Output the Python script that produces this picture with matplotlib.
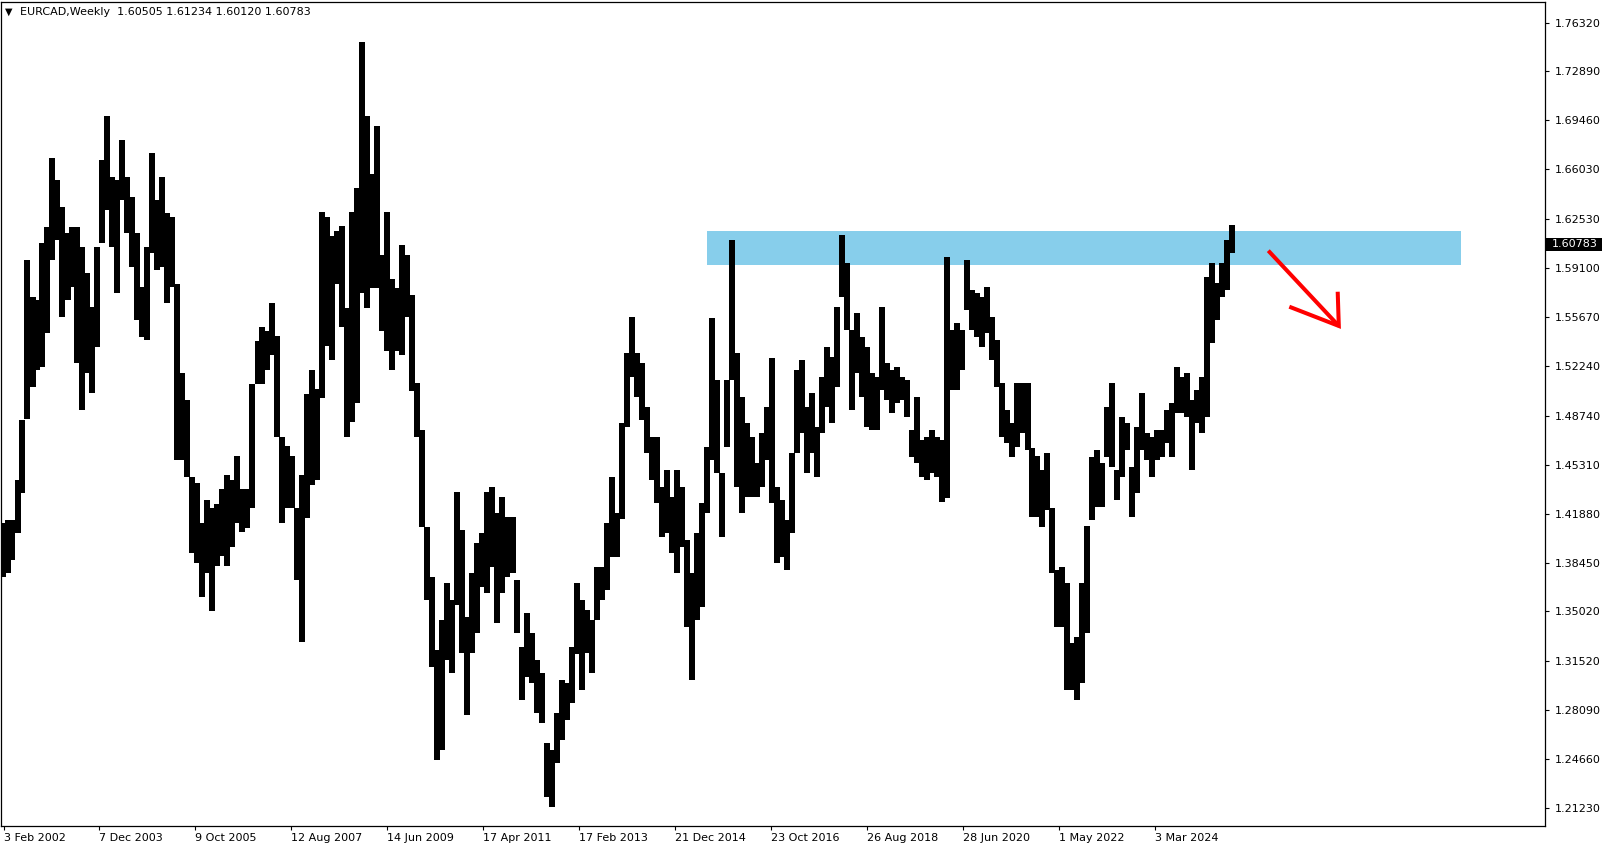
import numpy as np
import matplotlib
matplotlib.use("Agg")
import matplotlib.pyplot as plt
from matplotlib.patches import Rectangle

# ---------------- data ----------------
SYMBOL = "EURCAD,Weekly"
LAST_OHLC = ["1.60505", "1.61234", "1.60120", "1.60783"]
LAST_CLOSE = 1.60783

# price range of each 5-week bucket; weeks counted from 3 Feb 2002
BUCKET_WEEKS = 5
FIRST_BUCKET_WEEK = -1
HIGHS = [
    1.4120, 1.4143, 1.4143, 1.4424, 1.4845, 1.5967, 1.5710, 1.5686, 1.6084, 1.6201,
    1.6680, 1.6528, 1.6341, 1.6154, 1.6201, 1.6201, 1.6060, 1.5873, 1.5639, 1.6060,
    1.6668, 1.6977, 1.6551, 1.6528, 1.6808, 1.6551, 1.6411, 1.6154, 1.5780, 1.6060,
    1.6715, 1.6388, 1.6551, 1.6294, 1.6271, 1.5800, 1.5172, 1.4985, 1.4447, 1.4400,
    1.4120, 1.4283, 1.4224, 1.4257, 1.4358, 1.4459, 1.4425, 1.4593, 1.4358, 1.4358,
    1.5100, 1.5398, 1.5499, 1.5466, 1.5667, 1.5432, 1.4727, 1.4660, 1.4593, 1.4224,
    1.4459, 1.5029, 1.5197, 1.5063, 1.6305, 1.6271, 1.6137, 1.6171, 1.6204, 1.5633,
    1.6305, 1.6472, 1.7496, 1.6976, 1.6573, 1.6909, 1.6003, 1.6305, 1.5835, 1.5768,
    1.6070, 1.6003, 1.5720, 1.5102, 1.4774, 1.4096, 1.3746, 1.3231, 1.3442, 1.3699,
    1.3582, 1.4342, 1.4073, 1.3465, 1.3769, 1.3980, 1.4050, 1.4342, 1.4377, 1.4190,
    1.4307, 1.4167, 1.4167, 1.3722, 1.3254, 1.3488, 1.3348, 1.3161, 1.3067, 1.2577,
    1.2530, 1.2787, 1.3020, 1.2997, 1.3254, 1.3699, 1.3582, 1.3512, 1.3442, 1.3816,
    1.3816, 1.4120, 1.4447, 1.4190, 1.4821, 1.5312, 1.5569, 1.5312, 1.5242, 1.4938,
    1.4727, 1.4727, 1.4377, 1.4494, 1.4307, 1.4494, 1.4377, 1.4000, 1.3769, 1.4049,
    1.4260, 1.4657, 1.5557, 1.5125, 1.4470, 1.5125, 1.6107, 1.5312, 1.5008, 1.4821,
    1.4727, 1.4540, 1.4751, 1.4938, 1.5277, 1.4377, 1.4283, 1.4143, 1.4611, 1.5195,
    1.5265, 1.4938, 1.5031, 1.4798, 1.5148, 1.5359, 1.5289, 1.5639, 1.6142, 1.5943,
    1.5476, 1.5593, 1.5429, 1.5359, 1.5172, 1.5148, 1.5639, 1.5242, 1.5195, 1.5218,
    1.5148, 1.5125, 1.4774, 1.5008, 1.4704, 1.4727, 1.4774, 1.4727, 1.4704, 1.5990,
    1.5476, 1.5522, 1.5476, 1.5967, 1.5756, 1.5733, 1.5709, 1.5780, 1.5569, 1.5406,
    1.5102, 1.4915, 1.4821, 1.5102, 1.5102, 1.5102, 1.4650, 1.4590, 1.4494, 1.4611,
    1.4230, 1.3792, 1.3816, 1.3699, 1.3278, 1.3325, 1.3699, 1.4100, 1.4587, 1.4634,
    1.4541, 1.4938, 1.5102, 1.4494, 1.4868, 1.4821, 1.4517, 1.4798, 1.5032, 1.4751,
    1.4727, 1.4774, 1.4774, 1.4915, 1.4961, 1.5219, 1.5149, 1.5172, 1.4985, 1.5055,
    1.5149, 1.5850, 1.5943, 1.5803, 1.5943, 1.6107, 1.6212,
]
LOWS = [
    1.3746, 1.3769, 1.3863, 1.4050, 1.4330, 1.4850, 1.5078, 1.5195, 1.5219, 1.5452,
    1.5967, 1.6107, 1.5569, 1.5686, 1.5780, 1.5242, 1.4915, 1.5172, 1.5032, 1.5359,
    1.6084, 1.6317, 1.6060, 1.5733, 1.6388, 1.6154, 1.5920, 1.5546, 1.5429, 1.5405,
    1.6014, 1.5897, 1.5920, 1.5663, 1.5780, 1.4564, 1.4564, 1.4447, 1.3909, 1.3839,
    1.3605, 1.3769, 1.3502, 1.3821, 1.3888, 1.3821, 1.3955, 1.4123, 1.4056, 1.4090,
    1.4224, 1.5096, 1.5096, 1.5197, 1.5298, 1.4727, 1.4123, 1.4224, 1.4224, 1.3720,
    1.3284, 1.4157, 1.4392, 1.4425, 1.5000, 1.5365, 1.5264, 1.5801, 1.5499, 1.4727,
    1.4828, 1.4962, 1.5734, 1.5633, 1.5768, 1.5768, 1.5466, 1.5331, 1.5197, 1.5331,
    1.5298, 1.5566, 1.5050, 1.4727, 1.4096, 1.3582, 1.3114, 1.2460, 1.2530, 1.3161,
    1.3067, 1.3550, 1.3208, 1.2775, 1.3208, 1.3348, 1.3676, 1.3629, 1.3816, 1.3418,
    1.3629, 1.3746, 1.3769, 1.3348, 1.2880, 1.3044, 1.2997, 1.2787, 1.2717, 1.2203,
    1.2132, 1.2436, 1.2600, 1.2740, 1.2857, 1.3200, 1.2951, 1.3208, 1.3067, 1.3442,
    1.3582, 1.3652, 1.3886, 1.3886, 1.4150, 1.4798, 1.5148, 1.5008, 1.4844, 1.4611,
    1.4423, 1.4260, 1.4026, 1.4049, 1.3909, 1.3769, 1.3956, 1.3395, 1.3021, 1.3442,
    1.3535, 1.4190, 1.4564, 1.4470, 1.4026, 1.4657, 1.5125, 1.4377, 1.4190, 1.4307,
    1.4307, 1.4307, 1.4377, 1.4564, 1.4260, 1.3839, 1.3886, 1.3792, 1.4049, 1.4611,
    1.4751, 1.4470, 1.4611, 1.4447, 1.4751, 1.4938, 1.4821, 1.5078, 1.5709, 1.5476,
    1.4915, 1.5172, 1.5008, 1.4798, 1.4774, 1.4774, 1.5055, 1.4985, 1.4892, 1.4962,
    1.4985, 1.4868, 1.4587, 1.4540, 1.4447, 1.4424, 1.4470, 1.4447, 1.4272, 1.4300,
    1.5055, 1.5055, 1.5195, 1.5616, 1.5476, 1.5429, 1.5359, 1.5452, 1.5265, 1.5078,
    1.4728, 1.4681, 1.4587, 1.4657, 1.4751, 1.4634, 1.4166, 1.4167, 1.4096, 1.4213,
    1.3769, 1.3395, 1.3395, 1.2951, 1.2951, 1.2881, 1.2997, 1.3348, 1.4143, 1.4237,
    1.4237, 1.4587, 1.4517, 1.4283, 1.4447, 1.4634, 1.4166, 1.4330, 1.4634, 1.4564,
    1.4447, 1.4564, 1.4587, 1.4681, 1.4587, 1.4891, 1.4891, 1.4868, 1.4494, 1.4821,
    1.4751, 1.4868, 1.5382, 1.5546, 1.5710, 1.5756, 1.6013,
]

PRICE_TICKS = [1.76320, 1.72890, 1.69460, 1.66030, 1.62530, 1.59100, 1.55670,
               1.52240, 1.48740, 1.45310, 1.41880, 1.38450, 1.35020, 1.31520,
               1.28090, 1.24660, 1.21230]
DATE_TICK_WEEKS = [0, 96, 192, 288, 384, 480, 576, 672, 768, 864, 960, 1056, 1152]
DATE_LABELS = ["3 Feb 2002", "7 Dec 2003", "9 Oct 2005", "12 Aug 2007",
               "14 Jun 2009", "17 Apr 2011", "17 Feb 2013", "21 Dec 2014",
               "23 Oct 2016", "26 Aug 2018", "28 Jun 2020", "1 May 2022",
               "3 Mar 2024"]

# resistance zone and hand-drawn arrow
ZONE_WEEKS = [703.5, 1457.5]
ZONE_PRICES = [1.5932, 1.6170]
ARROW_SHAFT_WEEKS = [1264.8, 1335.3]
ARROW_SHAFT_PRICES = [1.6032, 1.5504]
ARROW_HEAD_WEEKS = [1285.8, 1335.3, 1334.2]
ARROW_HEAD_PRICES = [1.5639, 1.5504, 1.5744]

X_RANGE = [-2.5, 1541.5]
Y_RANGE = [1.1997, 1.7776]

# ---------------- figure ----------------
W, H = 1608, 850
AX_W_PX, AX_H_PX = 1544, 824
fig = plt.figure(figsize=(W / 100, H / 100), dpi=100)
fig.patch.set_facecolor("white")
ax = fig.add_axes([1 / W, 24 / H, AX_W_PX / W, AX_H_PX / H])
ax.set_facecolor("white")

FONT = "DejaVu Sans"
FS = 8

x = FIRST_BUCKET_WEEK + BUCKET_WEEKS * np.arange(len(HIGHS))

ax.add_patch(Rectangle((ZONE_WEEKS[0], ZONE_PRICES[0]),
                       ZONE_WEEKS[1] - ZONE_WEEKS[0],
                       ZONE_PRICES[1] - ZONE_PRICES[0],
                       facecolor="#87CEEB", edgecolor="none", zorder=1))

ax.vlines(x, LOWS, HIGHS, colors="black", linewidth=2.9, zorder=2,
          antialiased=False)

ax.plot(ARROW_SHAFT_WEEKS, ARROW_SHAFT_PRICES, color="#FF0000", lw=2.9,
        solid_capstyle="butt", zorder=3)
ax.plot(ARROW_HEAD_WEEKS, ARROW_HEAD_PRICES, color="#FF0000", lw=2.9,
        solid_capstyle="butt", solid_joinstyle="miter", zorder=3)

ax.set_xlim(*X_RANGE)
ax.set_ylim(*Y_RANGE)

# right price axis
ax.yaxis.tick_right()
ax.set_yticks(PRICE_TICKS)
ax.set_yticklabels([f"{v:.5f}" for v in PRICE_TICKS], fontfamily=FONT, fontsize=FS)
ax.tick_params(axis="y", direction="out", length=3, width=0.8, pad=4,
               colors="black")

# bottom date axis
ax.set_xticks(DATE_TICK_WEEKS)
ax.set_xticklabels(DATE_LABELS, fontfamily=FONT, fontsize=FS)
for lbl in ax.get_xticklabels():
    lbl.set_horizontalalignment("left")
ax.tick_params(axis="x", direction="out", length=3, width=0.8, pad=2,
               colors="black")

for sp in ax.spines.values():
    sp.set_color("black")
    sp.set_linewidth(0.9)

# current price marker (black box on the price scale)
px_price = (Y_RANGE[1] - Y_RANGE[0]) / AX_H_PX
ytr = ax.get_yaxis_transform()
ax.add_patch(Rectangle((1 + 1.5 / AX_W_PX, LAST_CLOSE - 6.5 * px_price),
                       56 / AX_W_PX, 13 * px_price, transform=ytr,
                       facecolor="black", edgecolor="none", clip_on=False,
                       zorder=5))
ax.text(1 + 7 / AX_W_PX, LAST_CLOSE, f"{LAST_CLOSE:.5f}", transform=ytr,
        ha="left", va="center", fontfamily=FONT, fontsize=FS, color="white",
        clip_on=False, zorder=6)

# header
fig.text(5 / W, 1 - 11.5 / H, "\u25BC", fontfamily=FONT, fontsize=7,
         ha="left", va="center", color="black")
fig.text(20.5 / W, 1 - 12.3 / H, SYMBOL + "  " + " ".join(LAST_OHLC),
         fontfamily=FONT, fontsize=FS, ha="left", va="center", color="black")

fig.savefig("out.png", dpi=100, facecolor="white")
